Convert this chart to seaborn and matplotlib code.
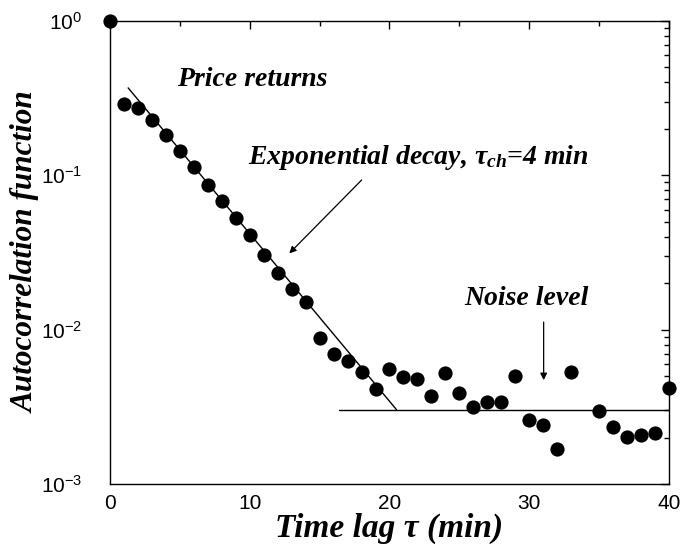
import numpy as np
import pandas as pd
import matplotlib
matplotlib.use("Agg")
import matplotlib.pyplot as plt
import seaborn as sns
from matplotlib.ticker import MultipleLocator, LogLocator, NullFormatter

# ---- data ----
lag = [0, 1, 2, 3, 4, 5, 6, 7, 8, 9, 10, 11, 12, 13, 14, 15, 16, 17, 18, 19,
       20, 21, 22, 23, 24, 25, 26, 27, 28, 29, 30, 31, 32, 33, 35, 36, 37, 38, 39, 40]
acf = [1.0, 0.29, 0.273, 0.228, 0.182, 0.144, 0.113, 0.0866, 0.068, 0.0529,
       0.041, 0.0304, 0.0233, 0.0183, 0.0151, 0.00883, 0.00695, 0.00625, 0.00531, 0.00412,
       0.00556, 0.00493, 0.00478, 0.00373, 0.00523, 0.00388, 0.00315, 0.00341, 0.0034, 0.00501,
       0.00259, 0.00242, 0.00168, 0.00533, 0.00297, 0.00235, 0.00202, 0.00207, 0.00215, 0.0042]

# exponential fit parameters
fit_amp = 0.51
fit_tau = 4.0
fit_t = [1.3, 20.5]
# noise level
noise_level = 0.0030
noise_t = [16.4, 40]

xticks = [0, 10, 20, 30, 40]
yticks = [1e-3, 1e-2, 1e-1, 1.0]
ytick_labels = [r'$\mathrm{10^{-3}}$', r'$\mathrm{10^{-2}}$', r'$\mathrm{10^{-1}}$', r'$\mathrm{10^{0}}$']

sns.set_style("white")
plt.rcParams['font.family'] = ['Liberation Sans', 'DejaVu Sans']
plt.rcParams['text.color'] = 'black'
plt.rcParams['axes.labelcolor'] = 'black'
plt.rcParams['xtick.color'] = 'black'
plt.rcParams['ytick.color'] = 'black'
plt.rcParams['mathtext.fontset'] = 'custom'
plt.rcParams['mathtext.rm'] = 'Liberation Sans'
plt.rcParams['mathtext.sf'] = 'Liberation Sans'
plt.rcParams['mathtext.it'] = 'Liberation Serif:bold:italic'
plt.rcParams['mathtext.bf'] = 'Liberation Serif:bold:italic'

fig = plt.figure(figsize=(6.81, 5.48), dpi=100)
ax = fig.add_axes([0.1615, 0.1168, 0.8209, 0.8449])

df = pd.DataFrame({"lag": lag, "acf": acf})
sns.scatterplot(data=df, x="lag", y="acf", ax=ax, color="black", s=105,
                edgecolor="black", linewidth=0, clip_on=False, zorder=3, legend=False)

tt = np.linspace(fit_t[0], fit_t[1], 50)
fit_df = pd.DataFrame({"t": tt, "y": fit_amp * np.exp(-tt / fit_tau)})
sns.lineplot(data=fit_df, x="t", y="y", ax=ax, color="black", linewidth=1.0)
noise_df = pd.DataFrame({"t": noise_t, "y": [noise_level, noise_level]})
sns.lineplot(data=noise_df, x="t", y="y", ax=ax, color="black", linewidth=1.0)

ax.set_yscale("log")
ax.set_xlim(0, 40)
ax.set_ylim(1e-3, 1.0)
ax.set_xticks(xticks)
ax.set_xticklabels([str(v) for v in xticks])
ax.xaxis.set_minor_locator(MultipleLocator(5))
ax.set_yticks(yticks)
ax.set_yticklabels(ytick_labels)
ax.yaxis.set_minor_locator(LogLocator(base=10, subs=np.arange(2, 10)))
ax.yaxis.set_minor_formatter(NullFormatter())

ax.tick_params(which="both", direction="in", top=True, right=True, width=1.0, color="black")
ax.tick_params(which="major", length=6, labelsize=15)
ax.tick_params(which="minor", length=3.5)
ax.tick_params(axis="x", which="major", pad=7)
ax.tick_params(axis="y", which="major", pad=20)
for sp in ax.spines.values():
    sp.set_color("black")
    sp.set_linewidth(1.0)

serif = dict(family="Liberation Serif", weight="bold", style="italic")
ax.set_xlabel("Time lag τ (min)", fontsize=24, labelpad=0, **serif)
ax.set_ylabel("Autocorrelation function", fontsize=22.5, labelpad=0, **serif)

ax.text(4.79, 0.415, "Price returns", fontsize=20, va="center", ha="left", **serif)
ax.text(9.87, 0.131, "Exponential decay, τ$_{ch}$=4 min", fontsize=20,
        va="center", ha="left", **serif)
ax.annotate("", xy=(12.83, 0.0312), xytext=(18.01, 0.0933),
            arrowprops=dict(arrowstyle="-|>", color="black", lw=0.9,
                            mutation_scale=10, shrinkA=0, shrinkB=0))
ax.text(29.77, 0.016, "Noise level", fontsize=20, va="center", ha="center", **serif)
ax.annotate("", xy=(31.03, 0.00471), xytext=(31.03, 0.0112),
            arrowprops=dict(arrowstyle="-|>", color="black", lw=0.9,
                            mutation_scale=10, shrinkA=0, shrinkB=0))

fig.savefig("out.png", dpi=100)
